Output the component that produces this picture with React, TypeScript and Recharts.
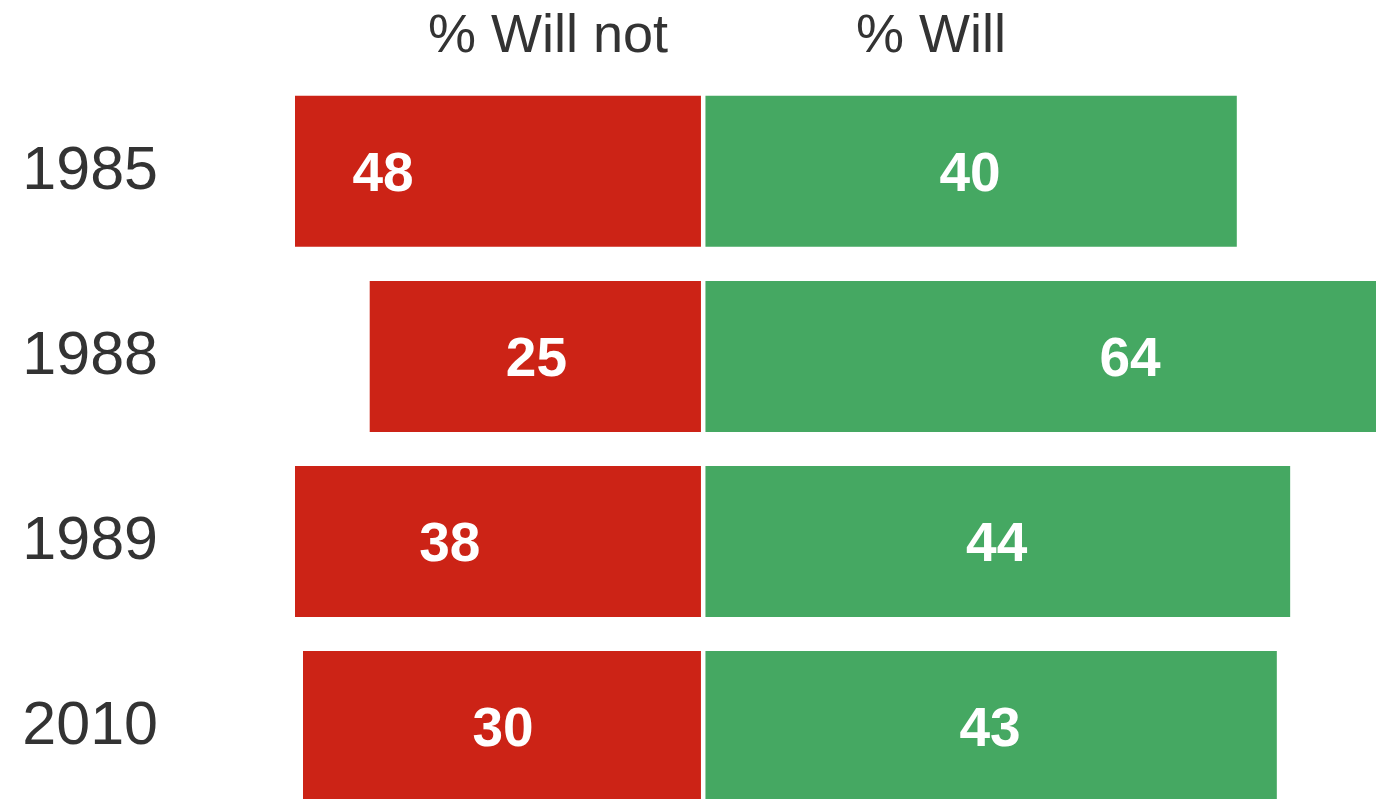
import React from 'react';
import { BarChart, Bar, XAxis, YAxis, ReferenceLine, LabelList } from 'recharts';

// Values
const years = ['1985', '1988', '1989', '2010'];
const willNot = [48, 25, 38, 30];
const will = [40, 64, 44, 43];
const headers = ['% Will not', '% Will'];

const RED = '#CC2316';
const GREEN = '#45A862';
const TEXT = '#333333';
const FONT = '"Liberation Sans", Arial, Helvetica, sans-serif';

// will-not goes to the left of zero
const data = years.map((year, i) => ({
  year,
  willNot: -willNot[i],
  will: will[i],
}));

const App = () => {
  return (
    <div
      style={{
        position: 'absolute',
        left: 0,
        top: 0,
        width: 1376,
        height: 799,
        overflow: 'hidden',
        background: '#fff',
        fontFamily: FONT,
      }}
    >
      <svg
        width={1376}
        height={78}
        style={{ position: 'absolute', left: 0, top: 0 }}
      >
        <text x={548} y={52} textAnchor="middle" fontSize={54} fill={TEXT} fontFamily={FONT}>
          {headers[0]}
        </text>
        <text x={931} y={52} textAnchor="middle" fontSize={54} fill={TEXT} fontFamily={FONT}>
          {headers[1]}
        </text>
      </svg>
      <BarChart
        width={1520}
        height={840}
        data={data}
        layout="vertical"
        barGap={-151}
        margin={{ top: 78.8, right: 16.4, bottom: 20.8, left: 0 }}
        style={{ position: 'absolute', left: 0, top: 0 }}
      >
        <XAxis type="number" hide domain={[-30.6, 60]} allowDataOverflow />
        <YAxis
          type="category"
          dataKey="year"
          width={295}
          axisLine={false}
          tickLine={false}
          tickSize={0}
          tickMargin={137}
          tick={{ fontSize: 61, fill: TEXT, fontFamily: FONT, dy: -4 }}
        />
        <Bar dataKey="willNot" fill={RED} barSize={151} isAnimationActive={false}>
          <LabelList
            dataKey="willNot"
            position="center"
            formatter={(v: number) => Math.abs(v)}
            fill="#fff"
            fontSize={55}
            fontWeight="bold"
            fontFamily={FONT}
          />
        </Bar>
        <Bar dataKey="will" fill={GREEN} barSize={151} isAnimationActive={false}>
          <LabelList
            dataKey="will"
            position="center"
            fill="#fff"
            fontSize={55}
            fontWeight="bold"
            fontFamily={FONT}
          />
        </Bar>
        <ReferenceLine x={0} stroke="#fff" strokeWidth={4.5} />
      </BarChart>
    </div>
  );
};

export default App;
